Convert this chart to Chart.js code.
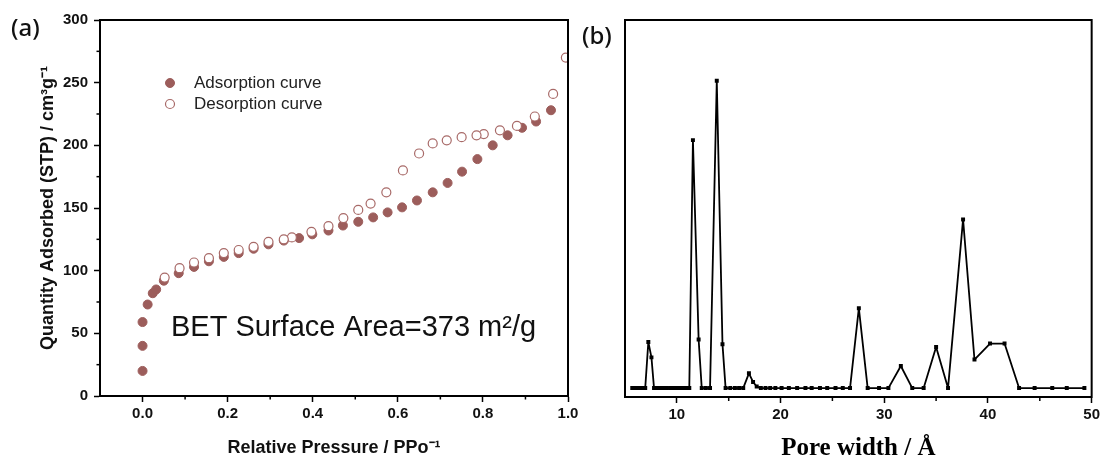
<!DOCTYPE html>
<html>
<head>
<meta charset="utf-8">
<title>BET isotherm and pore width</title>
<script src="https://cdn.jsdelivr.net/npm/chart.js@4.4.1/dist/chart.umd.min.js"></script>
<style>
  html, body { margin: 0; padding: 0; background: #fff; }
  #wrap { position: relative; width: 1103px; height: 476px; overflow: hidden; }
  #chartA { position: absolute; left: 0; top: 0; }
  #chartB { position: absolute; left: 580px; top: 0; }
</style>
</head>
<body>
<div id="wrap">
  <canvas id="chartA" width="590" height="476"></canvas>
  <canvas id="chartB" width="523" height="476"></canvas>
</div>
<script>
// (a) N2 isotherm, relative pressure vs quantity adsorbed
const adsP = [0.000, 0.000, 0.000, 0.012, 0.024, 0.032, 0.050, 0.085, 0.121, 0.156, 0.191,
              0.226, 0.261, 0.296, 0.332, 0.368, 0.399, 0.437, 0.471, 0.507, 0.542, 0.576,
              0.610, 0.645, 0.682, 0.717, 0.751, 0.787, 0.823, 0.858, 0.892, 0.925, 0.960];
const adsQ = [20, 40, 59, 73, 82, 85, 92, 98, 103, 107.5, 111,
              114, 117.5, 121, 124, 126, 129, 132, 136, 139, 142.5, 146.5,
              150.5, 156, 162.5, 170, 179, 189, 200, 208, 214, 219, 228];

const desP = [0.995, 0.965, 0.922, 0.880, 0.840, 0.802, 0.785, 0.750, 0.715, 0.682, 0.650,
              0.612, 0.573, 0.536, 0.507, 0.472, 0.437, 0.397, 0.351, 0.332, 0.296, 0.261,
              0.226, 0.191, 0.156, 0.121, 0.087, 0.052];
const desQ = [270, 241, 223, 215.5, 212, 209, 208, 206.5, 204, 201.5, 193.5,
              180, 162.5, 153.5, 148.5, 142, 135.5, 131, 126.5, 125, 123, 119,
              116.5, 114, 110, 106.5, 102, 94.5];

const aXTicks = [0.0, 0.2, 0.4, 0.6, 0.8, 1.0];
const aXMinor = [0.1, 0.3, 0.5, 0.7, 0.9];
const aYTicks = [0, 50, 100, 150, 200, 250, 300];
const aYMinor = [25, 75, 125, 175, 225, 275];

// (b) pore width distribution (arbitrary units)
const poreW = [5.70, 5.95, 6.20, 6.45, 6.70, 6.95, 7.25, 7.55,
               7.80, 8.05, 8.30, 8.55, 8.80, 9.05,
               9.40, 9.65, 9.90, 10.15, 10.40, 10.65, 10.90,
               11.20, 11.55, 12.10, 12.40, 12.80, 13.20, 13.85, 14.40,
               14.70, 15.15, 15.60, 16.00, 16.40, 16.95, 17.35, 17.70,
               18.10, 18.55, 19.00, 19.50, 20.10, 20.80, 21.60, 22.40, 23.00, 23.80, 24.50, 25.30, 26.00, 26.70,
               27.55, 28.40, 29.50, 30.40, 31.60, 32.70, 33.80, 35.00, 36.15, 37.60, 38.70,
               40.20, 41.60, 43.00, 44.50, 46.20, 47.60, 49.30];
const poreV = [0, 0, 0, 0, 0, 0, 15, 10,
               0, 0, 0, 0, 0, 0,
               0, 0, 0, 0, 0, 0, 0,
               0, 80.7, 15.8, 0, 0, 0, 100, 14.3,
               0, 0, 0, 0, 0, 4.8, 2, 0.5,
               0, 0, 0, 0, 0, 0, 0, 0, 0, 0, 0, 0, 0, 0,
               26, 0, 0, 0, 7.2, 0, 0, 13.4, 0, 54.9, 9.3,
               14.5, 14.5, 0, 0, 0, 0, 0];

const bXTicks = [10, 20, 30, 40, 50];
const bXMinor = [15, 25, 35, 45];

const sans = '"Liberation Sans", Arial, sans-serif';
const brown = '#9c5d5b';

Chart.defaults.font.family = sans;
Chart.defaults.color = '#111';

const toPts = (xs, ys) => xs.map((x, i) => ({ x: x, y: ys[i] }));

// box around plot area, minor ticks, free text and a small legend
const extrasPlugin = {
    id: 'extras',
    afterDraw(chart, args, opts) {
        const { ctx, chartArea: a, scales } = chart;
        ctx.save();
        ctx.strokeStyle = '#000';
        ctx.lineWidth = 2;
        ctx.strokeRect(a.left, a.top, a.right - a.left, a.bottom - a.top);

        ctx.lineWidth = 1.5;
        (opts.xMinor || []).forEach(v => {
            const x = scales.x.getPixelForValue(v);
            ctx.beginPath();
            ctx.moveTo(x, a.bottom);
            ctx.lineTo(x, a.bottom + opts.minorLen);
            ctx.stroke();
        });
        (opts.yMinor || []).forEach(v => {
            const y = scales.y.getPixelForValue(v);
            ctx.beginPath();
            ctx.moveTo(a.left, y);
            ctx.lineTo(a.left - opts.minorLen, y);
            ctx.stroke();
        });

        (opts.texts || []).forEach(t => {
            ctx.font = t.font;
            ctx.fillStyle = t.color || '#111';
            ctx.textAlign = 'left';
            ctx.textBaseline = t.baseline || 'alphabetic';
            ctx.fillText(t.text, t.x, t.y);
        });

        if (opts.legend) {
            const L = opts.legend;
            chart.data.datasets.forEach((ds, i) => {
                const y = L.y + i * L.gap;
                ctx.beginPath();
                ctx.arc(L.x, y, 4.5, 0, Math.PI * 2);
                ctx.fillStyle = ds.backgroundColor;
                ctx.fill();
                ctx.lineWidth = ds.borderWidth;
                ctx.strokeStyle = ds.borderColor;
                ctx.stroke();
                ctx.font = L.font;
                ctx.fillStyle = '#222';
                ctx.textBaseline = 'middle';
                ctx.fillText(ds.label, L.x + 24, y);
            });
        }
        ctx.restore();
    }
};

new Chart(document.getElementById('chartA'), {
    type: 'scatter',
    data: {
        datasets: [
            {
                label: 'Adsorption curve',
                data: toPts(adsP, adsQ),
                backgroundColor: brown,
                borderColor: brown,
                borderWidth: 1,
                pointRadius: 4.5,
                order: 1
            },
            {
                label: 'Desorption curve',
                data: toPts(desP, desQ),
                backgroundColor: '#ffffff',
                borderColor: '#a86a68',
                borderWidth: 1.2,
                pointRadius: 4.5,
                order: 0
            }
        ]
    },
    plugins: [extrasPlugin],
    options: {
        responsive: false,
        animation: false,
        layout: { padding: { left: 0, right: 22, top: 20, bottom: 0 } },
        plugins: {
            legend: { display: false },
            tooltip: { enabled: false },
            extras: {
                minorLen: 3.5,
                xMinor: aXMinor,
                yMinor: aYMinor,
                legend: { x: 170, y: 83, gap: 21, font: '17px ' + sans },
                texts: [
                    { text: '(a)', x: 11, y: 29, baseline: 'middle', font: '500 24px "Noto Sans", sans-serif' },
                    { text: 'BET Surface Area=373 m\u00B2/g', x: 171, y: 336, font: '29px ' + sans }
                ]
            }
        },
        scales: {
            x: {
                type: 'linear',
                min: -0.1,
                max: 1.0,
                afterFit: s => { s.height = 80; },
                afterBuildTicks: s => { s.ticks = aXTicks.map(v => ({ value: v })); },
                grid: { drawOnChartArea: false, tickLength: 6, tickColor: '#000', tickWidth: 1.5 },
                border: { color: '#000', width: 2 },
                ticks: {
                    autoSkip: false,
                    padding: 3,
                    maxRotation: 0,
                    font: { size: 15, weight: 'bold' },
                    callback: v => Number(v).toFixed(1)
                },
                title: {
                    display: true,
                    text: 'Relative Pressure / PPo\u207B\u00B9',
                    font: { size: 18, weight: 'bold' },
                    padding: { top: 0, bottom: 17 }
                }
            },
            y: {
                min: 0,
                max: 300,
                afterFit: s => { s.width = 100; },
                afterBuildTicks: s => { s.ticks = aYTicks.map(v => ({ value: v })); },
                grid: { drawOnChartArea: false, tickLength: 6, tickColor: '#000', tickWidth: 1.5 },
                border: { color: '#000', width: 2 },
                ticks: {
                    autoSkip: false,
                    padding: 6,
                    font: { size: 15, weight: 'bold' }
                },
                title: {
                    display: true,
                    text: 'Quantity Adsorbed (STP) / cm\u00B3g\u207B\u00B9',
                    font: { size: 18, weight: 'bold' },
                    padding: { top: 37, bottom: 0 }
                }
            }
        }
    }
});

new Chart(document.getElementById('chartB'), {
    type: 'scatter',
    data: {
        datasets: [{
            label: 'Pore width distribution',
            data: toPts(poreW, poreV),
            showLine: true,
            borderColor: '#000',
            borderWidth: 1.8,
            borderJoinStyle: 'round',
            backgroundColor: '#000',
            pointStyle: 'rect',
            pointRadius: 2.8,
            pointBorderWidth: 0
        }]
    },
    plugins: [extrasPlugin],
    options: {
        responsive: false,
        animation: false,
        layout: { padding: { left: 45, right: 11, top: 20, bottom: 0 } },
        plugins: {
            legend: { display: false },
            tooltip: { enabled: false },
            extras: {
                minorLen: 4,
                xMinor: bXMinor,
                texts: [
                    { text: '(b)', x: 2, y: 37, baseline: 'middle', font: '500 24px "Noto Sans", sans-serif' }
                ]
            }
        },
        scales: {
            x: {
                type: 'linear',
                min: 5,
                max: 50,
                afterFit: s => { s.height = 79; },
                afterBuildTicks: s => { s.ticks = bXTicks.map(v => ({ value: v })); },
                grid: { drawOnChartArea: false, tickLength: 6, tickColor: '#000', tickWidth: 1.5 },
                border: { color: '#000', width: 2 },
                ticks: {
                    autoSkip: false,
                    padding: 3,
                    maxRotation: 0,
                    font: { size: 15, weight: 'bold' }
                },
                title: {
                    display: true,
                    text: 'Pore width / \u00C5',
                    font: { family: '"Liberation Serif", "Times New Roman", serif', size: 25, weight: 'bold' },
                    color: '#000',
                    padding: { top: 0, bottom: 12 }
                }
            },
            y: {
                display: false,
                min: -2.9,
                max: 119.8
            }
        }
    }
});
</script>
</body>
</html>
